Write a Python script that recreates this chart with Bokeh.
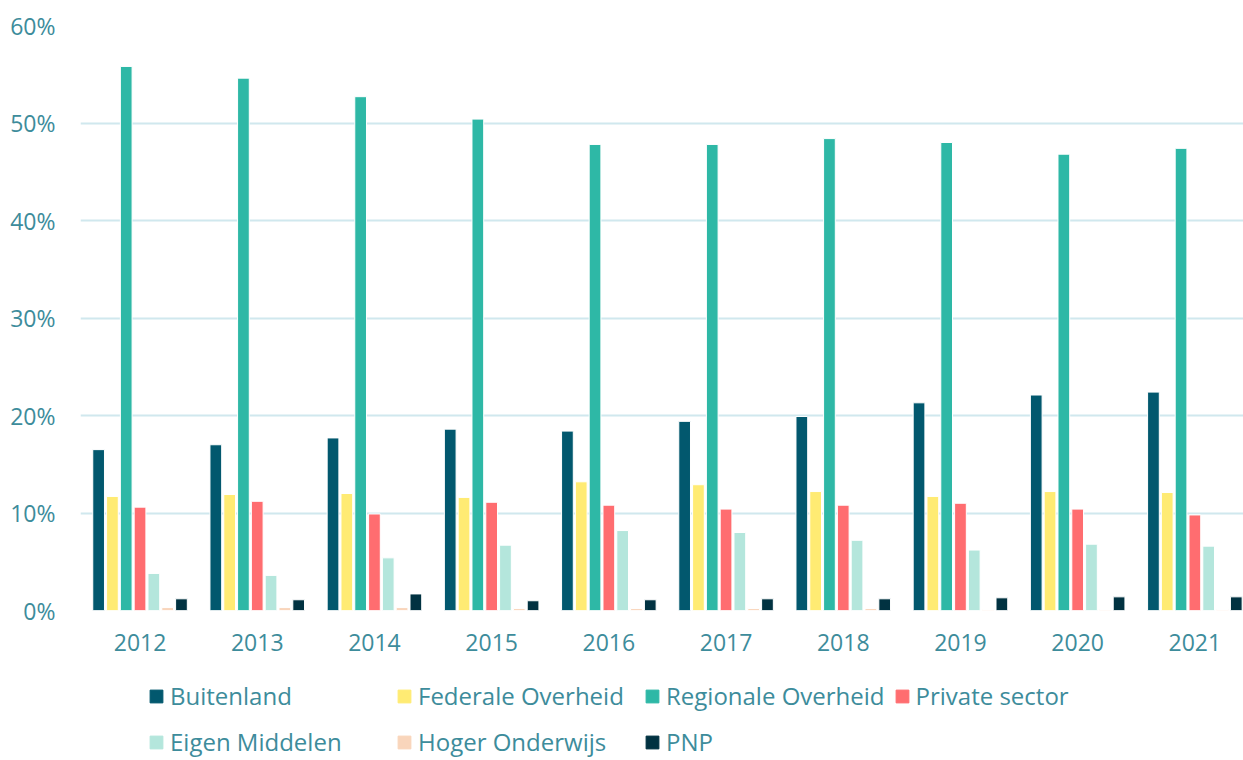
from bokeh.plotting import figure
from bokeh.layouts import column
from bokeh.models import ColumnDataSource, Legend, LegendItem, FixedTicker
from bokeh.embed import file_html
from bokeh.resources import INLINE

# Share of R&D funding per source, 2012-2021 (percent)
years = ["2012", "2013", "2014", "2015", "2016", "2017", "2018", "2019", "2020", "2021"]

buitenland = [16.5, 17.0, 17.7, 18.6, 18.4, 19.4, 19.9, 21.3, 22.1, 22.4]
federale_overheid = [11.7, 11.9, 12.0, 11.6, 13.2, 12.9, 12.2, 11.7, 12.2, 12.1]
regionale_overheid = [55.8, 54.6, 52.7, 50.4, 47.8, 47.8, 48.4, 48.0, 46.8, 47.4]
private_sector = [10.6, 11.2, 9.9, 11.1, 10.8, 10.4, 10.8, 11.0, 10.4, 9.8]
eigen_middelen = [3.8, 3.6, 5.4, 6.7, 8.2, 8.0, 7.2, 6.2, 6.8, 6.6]
hoger_onderwijs = [0.3, 0.3, 0.3, 0.2, 0.2, 0.2, 0.2, 0.1, 0.1, 0.1]
pnp = [1.2, 1.1, 1.7, 1.0, 1.1, 1.2, 1.2, 1.3, 1.4, 1.4]

series_names = ["Buitenland", "Federale Overheid", "Regionale Overheid", "Private sector",
                "Eigen Middelen", "Hoger Onderwijs", "PNP"]
series_values = [buitenland, federale_overheid, regionale_overheid, private_sector,
                 eigen_middelen, hoger_onderwijs, pnp]
series_colors = ["#02586e", "#ffeb73", "#2eb8a6", "#ff6d70", "#b4e6dc", "#f9d5bb", "#013241"]

TEXT = "#3d8c9b"
FONT = "Open Sans"

# --- bar chart -------------------------------------------------------------
p = figure(width=1243, height=668, output_backend="svg", toolbar_location=None,
           x_range=(-0.508, 9.415), y_range=(0, 60),
           min_border_left=80, min_border_right=0, min_border_top=25, min_border_bottom=58)
p.outline_line_color = None
p.border_fill_color = "white"

# --- legend strip (own figure, same left border so frames line up) ----------
lg = figure(width=1243, height=92, output_backend="svg", toolbar_location=None,
            x_range=(0, 1), y_range=(1000, 1001),
            min_border_left=80, min_border_right=0, min_border_top=0, min_border_bottom=0)
lg.axis.visible = False
lg.grid.grid_line_color = None
lg.outline_line_color = None

step = 0.1178
bar_w = 0.1
items = []
for k, (name, vals, col) in enumerate(zip(series_names, series_values, series_colors)):
    src = ColumnDataSource(dict(x=[i + (k - 3) * step for i in range(len(years))], top=vals))
    p.vbar(x="x", top="top", bottom=0, width=bar_w, source=src,
           fill_color=col, line_color="white", line_width=1)
    # legend swatch renderer: same series, not drawn in the strip itself
    r = lg.vbar(x="x", top="top", bottom=0, width=bar_w, source=src,
                fill_color=col, line_color=col, line_width=1, visible=False)
    items.append(LegendItem(label=name, renderers=[r]))

p.xaxis.ticker = FixedTicker(ticks=list(range(len(years))))
p.xaxis.major_label_overrides = {i: y for i, y in enumerate(years)}
pct_ticks = [0, 10, 20, 30, 40, 50, 60]
p.yaxis.ticker = FixedTicker(ticks=pct_ticks)
p.yaxis.major_label_overrides = {v: f"{v}%" for v in pct_ticks}
for ax in (p.xaxis, p.yaxis):
    ax.axis_line_color = None
    ax.major_tick_line_color = None
    ax.minor_tick_line_color = None
    ax.major_label_text_color = TEXT
    ax.major_label_text_font = FONT
    ax.major_label_text_font_size = "23px"
p.xaxis.major_label_standoff = 17
p.yaxis.major_label_standoff = 19

p.xgrid.grid_line_color = None
p.ygrid.grid_line_color = "#d0e8ee"
p.ygrid.grid_line_width = 2

legend = Legend(items=items, orientation="horizontal", ncols=4,
                location=(68, 0), padding=0, margin=0, spacing=9,
                glyph_width=16, glyph_height=16, label_standoff=6,
                label_width=217, label_height=37,
                label_text_font=FONT, label_text_font_size="24px", label_text_color=TEXT,
                inactive_fill_alpha=0, border_line_color=None, background_fill_alpha=0)
lg.add_layout(legend, "center")

out = column(p, lg, spacing=0)
open("out.html", "w").write(file_html(out, INLINE))
